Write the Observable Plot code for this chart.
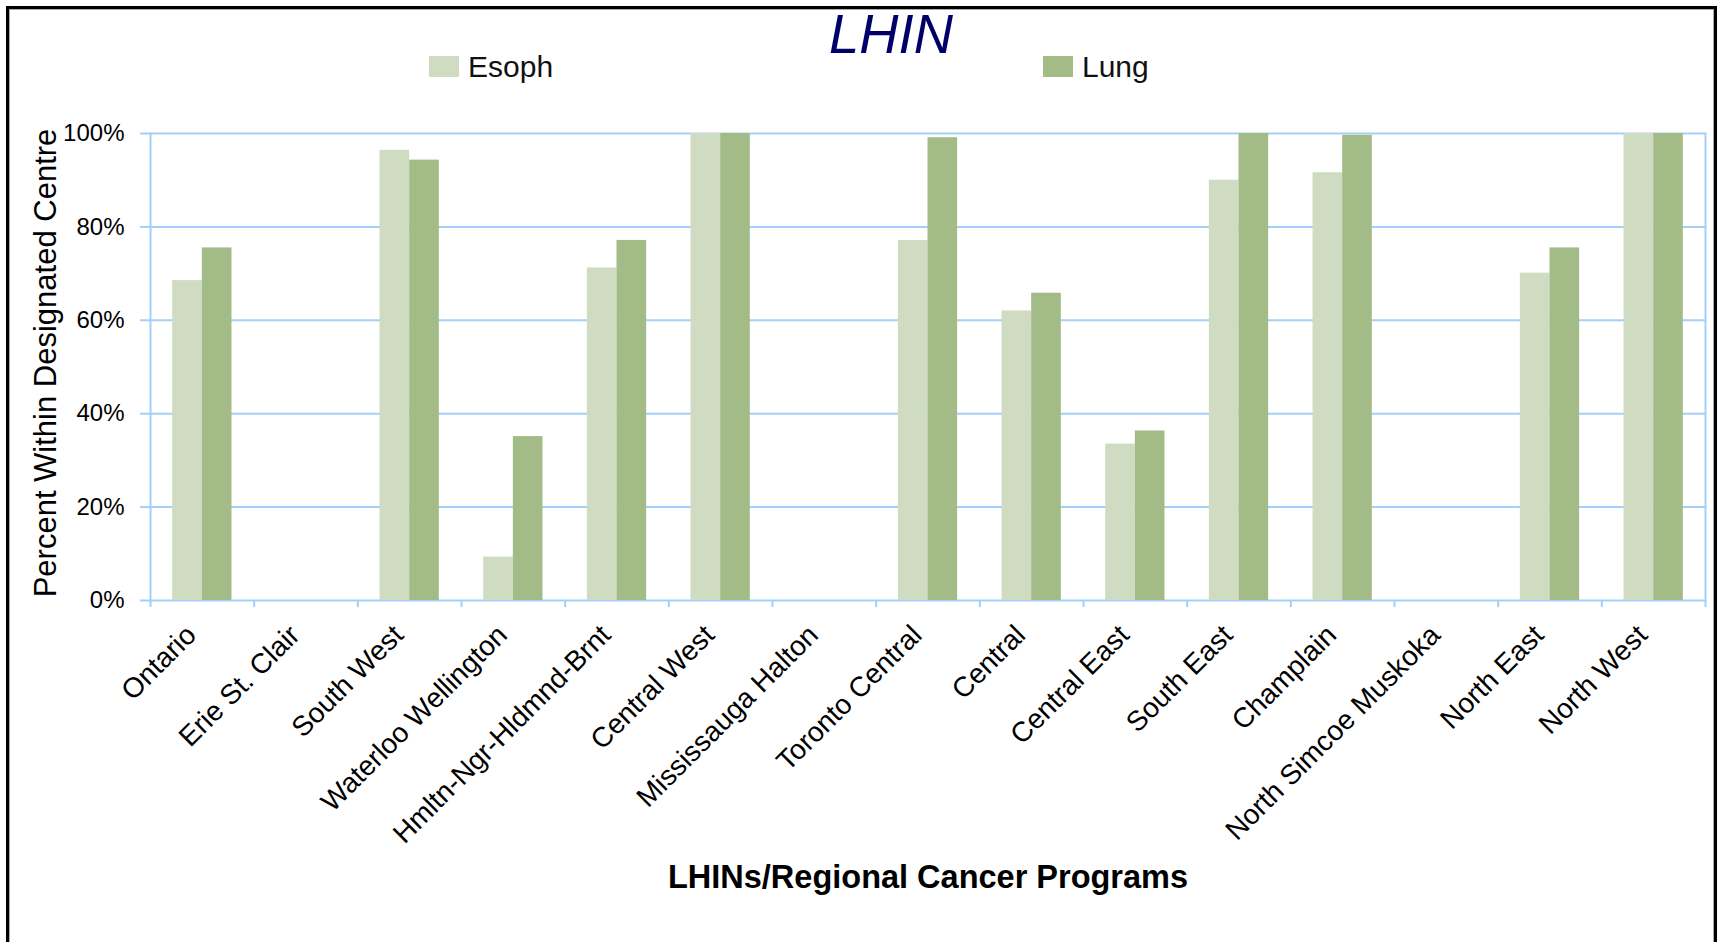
<!DOCTYPE html>
<html>
<head>
<meta charset="utf-8">
<script src="https://cdn.jsdelivr.net/npm/d3@7"></script>
<script src="https://cdn.jsdelivr.net/npm/@observablehq/plot@0.6"></script>
<style>
  html, body { margin: 0; padding: 0; background: #fff; overflow: hidden; }
  #wrap { position: relative; width: 1719px; height: 942px; font-family: "Liberation Sans", Arial, sans-serif; overflow: hidden; }
  #chart { position: absolute; left: 0; top: 0; }
  #title { position: absolute; top: 5.6px; left: 891px; font-style: italic; font-size: 56px; line-height: 1; color: #000066; transform: translateX(-50%) scaleX(0.97); white-space: nowrap; }
  .sw { position: absolute; top: 56px; width: 30px; height: 21px; }
  .lt { position: absolute; top: 51.6px; font-size: 30px; line-height: 1; color: #111; }
  #border { position: absolute; left: 6px; top: 6px; width: 1711px; height: 1000px; border: 3px solid #000; box-sizing: border-box; box-shadow: inset 1px 1px 0 #aaa, inset -1px 0 0 #aaa; pointer-events: none; }
</style>
</head>
<body>
<div id="wrap">
  <div id="chart"></div>
  <div id="legend"></div>
  <div id="border"></div>
  <div id="title"></div>
</div>
<script>
// ---- data ----
const regions = ["Ontario", "Erie St. Clair", "South West", "Waterloo Wellington", "Hmltn-Ngr-Hldmnd-Brnt",
  "Central West", "Mississauga Halton", "Toronto Central", "Central", "Central East", "South East",
  "Champlain", "North Simcoe Muskoka", "North East", "North West"];
const series = ["Esoph", "Lung"];
const esoph = [0.685, null, 0.964, 0.093, 0.712, 1.0, null, 0.771, 0.620, 0.335, 0.900, 0.916, null, 0.701, 1.0];
const lung  = [0.755, null, 0.943, 0.351, 0.771, 1.0, null, 0.991, 0.658, 0.363, 1.0, 0.996, null, 0.755, 1.0];
const yTicks = [0, 0.2, 0.4, 0.6, 0.8, 1.0];
const colors = ["#d0dcc2", "#a3bc87"];
const titleText = "LHIN";
const yTitle = "Percent Within Designated Centre";
const xTitle = "LHINs/Regional Cancer Programs";

// ---- layout ----
const W = 1719, H = 942, mL = 150, mR = 14, mT = 133, mB = 342;
const blue = "#a3cff9";
const bw = (W - mL - mR) / regions.length;
const half = bw / 2;
const barW = bw * 0.286;

const esophRows = regions.map((r, i) => ({region: r, value: esoph[i]})).filter(d => d.value != null);
const lungRows = regions.map((r, i) => ({region: r, value: lung[i]})).filter(d => d.value != null);

const plot = Plot.plot({
  width: W, height: H,
  marginLeft: mL, marginRight: mR, marginTop: mT, marginBottom: mB,
  style: {fontFamily: "'Liberation Sans', Arial, sans-serif", fontSize: "24px", color: "#000", background: "transparent", overflow: "visible"},
  x: {type: "band", domain: regions, padding: 0, round: false, label: null},
  y: {domain: [0, 1], label: null},
  marks: [
    Plot.gridY(yTicks, {stroke: blue, strokeOpacity: 1, strokeWidth: 2}),
    Plot.barY(esophRows, {x: "region", y: "value", fill: colors[0], insetLeft: half - barW, insetRight: half}),
    Plot.barY(lungRows, {x: "region", y: "value", fill: colors[1], insetLeft: half, insetRight: half - barW}),
    Plot.frame({anchor: "left", stroke: blue, strokeWidth: 2}),
    Plot.frame({anchor: "right", stroke: blue, strokeWidth: 2}),
    Plot.ruleX(regions, {x: d => d, dx: -half, y1: 0, y2: 0, insetBottom: -7, stroke: blue, strokeWidth: 2}),
    Plot.ruleX([regions[regions.length - 1]], {x: d => d, dx: half, y1: 0, y2: 0, insetBottom: -7, stroke: blue, strokeWidth: 2}),
    Plot.axisY(yTicks, {tickFormat: d3.format(".0%"), tickSize: 10, tickPadding: 16, stroke: blue, strokeWidth: 2, fill: "#000", fontSize: 24, label: null}),
    Plot.axisX({tickSize: 0, tickPadding: 30, dx: -11, tickRotate: -45, fontSize: 28, fill: "#000", label: null}),
    Plot.text([yTitle], {frameAnchor: "left", dx: -104, dy: -4, rotate: -90, textAnchor: "middle", fontSize: 31, fill: "#000"}),
    Plot.text([xTitle], {frameAnchor: "bottom", dy: 287, lineAnchor: "bottom", fontSize: 32.5, fontWeight: "bold", fill: "#000"})
  ]
});
document.getElementById("chart").appendChild(plot);
document.getElementById("title").textContent = titleText;

// legend
const legend = document.getElementById("legend");
const legendPos = [[429, 468], [1043, 1082]];
series.forEach((s, i) => {
  const sw = document.createElement("div");
  sw.className = "sw";
  sw.style.left = legendPos[i][0] + "px";
  sw.style.background = colors[i];
  legend.appendChild(sw);
  const t = document.createElement("div");
  t.className = "lt";
  t.style.left = legendPos[i][1] + "px";
  t.textContent = s;
  legend.appendChild(t);
});
</script>
</body>
</html>
